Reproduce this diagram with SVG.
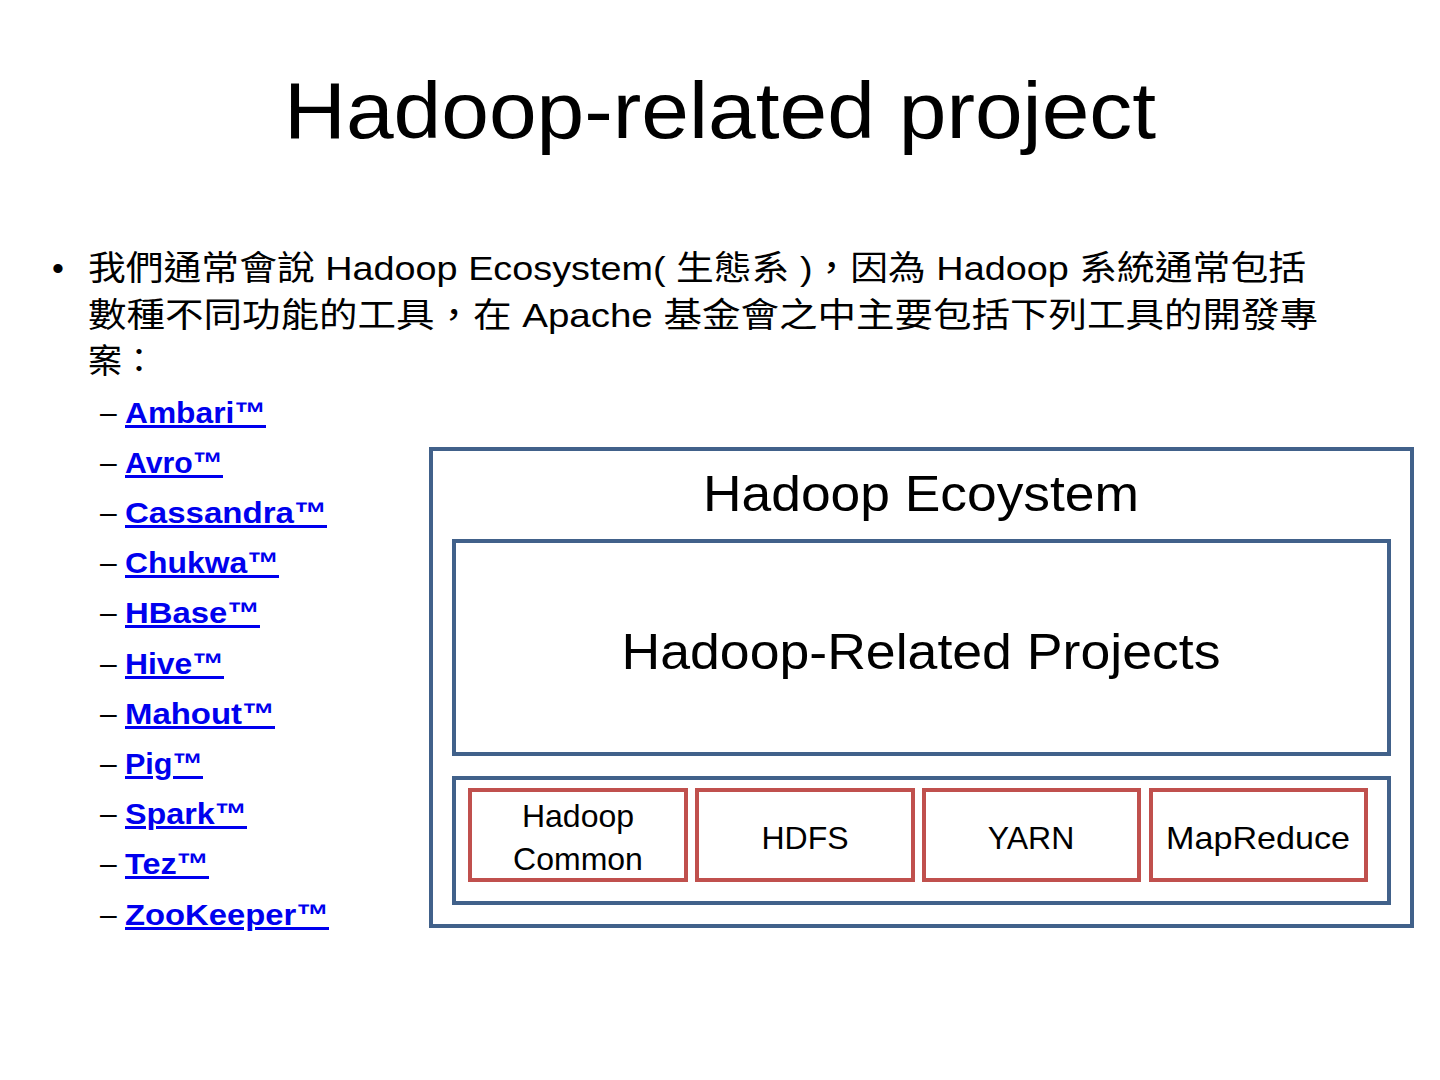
<svg xmlns="http://www.w3.org/2000/svg" width="1440" height="1080" viewBox="0 0 1440 1080">
<style>
text{font-family:"Liberation Sans","Noto Sans CJK TC",sans-serif;fill:#000}
.title{font-size:80px;text-anchor:middle}
.body{font-size:34px}
.dash{font-size:30px}
.link{font-size:30px;font-weight:bold;fill:#0000ee;text-decoration:underline}
.blue{fill:#fff;stroke:#41618a;stroke-width:4}
.red{fill:#fff;stroke:#c0504d;stroke-width:4}
.big{font-size:50px;text-anchor:middle}
.small{font-size:32px;text-anchor:middle}
</style>
<rect width="1440" height="1080" fill="#fff"/>
<text class="title" x="720" y="138" textLength="872" lengthAdjust="spacingAndGlyphs">Hadoop-related project</text>
<g id="bullet">
<text class="body" x="52" y="280">•</text>
<text class="body" x="88" y="280" textLength="1218" lengthAdjust="spacingAndGlyphs">我們通常會說 Hadoop Ecosystem( 生態系 )，因為 Hadoop 系統通常包括</text>
<text class="body" x="88" y="327" textLength="1230" lengthAdjust="spacingAndGlyphs">數種不同功能的工具，在 Apache 基金會之中主要包括下列工具的開發專</text>
<text class="body" x="88" y="373">案：</text>
</g>
<g id="list">
<text class="dash" x="100" y="423">–</text><text class="link" x="125" y="423" textLength="141" lengthAdjust="spacingAndGlyphs">Ambari™</text>
<text class="dash" x="100" y="473">–</text><text class="link" x="125" y="473" textLength="98" lengthAdjust="spacingAndGlyphs">Avro™</text>
<text class="dash" x="100" y="523">–</text><text class="link" x="125" y="523" textLength="202" lengthAdjust="spacingAndGlyphs">Cassandra™</text>
<text class="dash" x="100" y="573">–</text><text class="link" x="125" y="573" textLength="154" lengthAdjust="spacingAndGlyphs">Chukwa™</text>
<text class="dash" x="100" y="623">–</text><text class="link" x="125" y="623" textLength="135" lengthAdjust="spacingAndGlyphs">HBase™</text>
<text class="dash" x="100" y="674">–</text><text class="link" x="125" y="674" textLength="99" lengthAdjust="spacingAndGlyphs">Hive™</text>
<text class="dash" x="100" y="724">–</text><text class="link" x="125" y="724" textLength="150" lengthAdjust="spacingAndGlyphs">Mahout™</text>
<text class="dash" x="100" y="774">–</text><text class="link" x="125" y="774" textLength="78" lengthAdjust="spacingAndGlyphs">Pig™</text>
<text class="dash" x="100" y="824">–</text><text class="link" x="125" y="824" textLength="122" lengthAdjust="spacingAndGlyphs">Spark™</text>
<text class="dash" x="100" y="874">–</text><text class="link" x="125" y="874" textLength="84" lengthAdjust="spacingAndGlyphs">Tez™</text>
<text class="dash" x="100" y="925">–</text><text class="link" x="125" y="925" textLength="204" lengthAdjust="spacingAndGlyphs">ZooKeeper™</text>
</g>
<g id="ecosystem">
<rect class="blue" x="431" y="449" width="981" height="477"/>
<text class="big" x="921" y="511" textLength="436" lengthAdjust="spacingAndGlyphs">Hadoop Ecoystem</text>
</g>
<g id="related">
<rect class="blue" x="454" y="541" width="935" height="213"/>
<text class="big" x="921" y="669" textLength="599" lengthAdjust="spacingAndGlyphs">Hadoop-Related Projects</text>
</g>
<g id="core">
<rect class="blue" x="454" y="778" width="935" height="125"/>
</g>
<g id="common">
<rect class="red" x="470" y="790" width="216" height="90"/>
<text class="small" x="578" y="827">Hadoop</text>
<text class="small" x="578" y="870">Common</text>
</g>
<g id="hdfs">
<rect class="red" x="697" y="790" width="216" height="90"/>
<text class="small" x="805" y="849">HDFS</text>
</g>
<g id="yarn">
<rect class="red" x="924" y="790" width="215" height="90"/>
<text class="small" x="1031" y="849">YARN</text>
</g>
<g id="mapreduce">
<rect class="red" x="1151" y="790" width="215" height="90"/>
<text class="small" x="1258" y="849" textLength="184" lengthAdjust="spacingAndGlyphs">MapReduce</text>
</g>
<g id="connectors"/>
</svg>
